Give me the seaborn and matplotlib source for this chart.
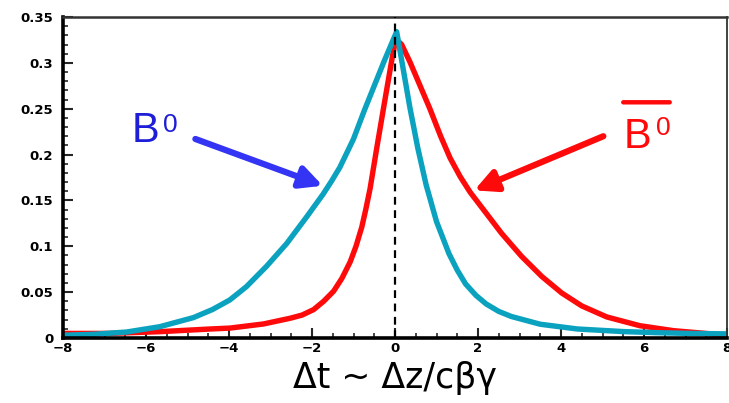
import matplotlib
matplotlib.use("Agg")
import matplotlib.pyplot as plt
import seaborn as sns
import pandas as pd
from matplotlib.ticker import MultipleLocator, FixedLocator

# ---- data ----
t_b0 = [-8, -7.28, -6.47, -5.67, -4.86, -4.4, -3.98, -3.58, -3.10, -2.61, -2.13, -1.73, -1.53,
        -1.33, -1.17, -1.0, -0.74, -0.5, -0.26, 0.04, 0.16, 0.36, 0.55, 0.75, 1.0, 1.3, 1.5,
        1.7, 1.95, 2.2, 2.5, 2.8, 3.5, 4.4, 5.5, 6.3, 7.1, 8]
p_b0 = [0.003, 0.004, 0.0065, 0.0123, 0.0222, 0.031, 0.0415, 0.056, 0.078, 0.103, 0.132, 0.157, 0.171,
        0.186, 0.201, 0.217, 0.248, 0.275, 0.302, 0.334, 0.303, 0.251, 0.207, 0.167, 0.127, 0.092, 0.074,
        0.059, 0.0465, 0.037, 0.029, 0.0235, 0.015, 0.0098, 0.007, 0.0058, 0.005, 0.0045]

t_b0bar = [-8, -6.88, -5.67, -4.46, -3.98, -3.17, -2.53, -2.24, -1.96, -1.72, -1.48, -1.28, -1.08,
           -0.94, -0.80, -0.70, -0.60, -0.44, -0.26, -0.07, 0.02, 0.16, 0.36, 0.84, 1.1, 1.33,
           1.57, 1.81, 2.08, 2.57, 3.05, 3.54, 4.02, 4.5, 5.1, 5.9, 6.71, 8]
p_b0bar = [0.005, 0.005, 0.0069, 0.0098, 0.0108, 0.0153, 0.0215, 0.025, 0.031, 0.040, 0.051, 0.065, 0.083,
           0.100, 0.121, 0.141, 0.163, 0.207, 0.255, 0.305, 0.326, 0.320, 0.301, 0.250, 0.220, 0.196,
           0.176, 0.159, 0.143, 0.114, 0.089, 0.067, 0.049, 0.035, 0.023, 0.0134, 0.008, 0.003]

x_ticks = [-8, -6, -4, -2, 0, 2, 4, 6, 8]
y_ticks = [0, 0.05, 0.1, 0.15, 0.2, 0.25, 0.3, 0.35]
y_tick_labels = ["0", "0.05", "0.1", "0.15", "0.2", "0.25", "0.3", "0.35"]
x_label = "Δt ~ Δz/cβγ"

df = pd.concat([
    pd.DataFrame({"t": t_b0, "p": p_b0, "s": "B0"}),
    pd.DataFrame({"t": t_b0bar, "p": p_b0bar, "s": "B0bar"}),
])

sns.set_theme(style="white")
plt.rcParams["font.family"] = ["Liberation Sans", "DejaVu Sans"]

fig = plt.figure(figsize=(7.29, 4.03), dpi=100)
ax = fig.add_axes([63 / 729, 1 - 338 / 403, (727 - 63) / 729, (338 - 17) / 403])

cyan = "#0AA2BF"
red = "#FF0A0A"
sns.lineplot(data=df, x="t", y="p", hue="s", hue_order=["B0bar", "B0"],
             palette={"B0": cyan, "B0bar": red}, linewidth=3.9, ax=ax,
             legend=False, sort=False, solid_joinstyle="round", solid_capstyle="round")
ax.axvline(0, color="black", linestyle=(0, (3.5, 2.5)), linewidth=1.6, zorder=5)

ax.set_xlim(-8, 8)
ax.set_ylim(0, 0.35)
ax.xaxis.set_major_locator(FixedLocator(x_ticks))
ax.xaxis.set_minor_locator(MultipleLocator(0.5))
ax.yaxis.set_major_locator(FixedLocator(y_ticks))
ax.set_yticklabels(y_tick_labels)
ax.yaxis.set_minor_locator(MultipleLocator(0.01))
ax.tick_params(axis="both", which="major", direction="in", length=7, width=1.5,
               labelsize=9.5, labelcolor="black", top=False, right=False, bottom=True, left=True)
ax.tick_params(axis="x", which="major", pad=3)
ax.tick_params(axis="y", which="major", pad=7)
ax.tick_params(axis="both", which="minor", direction="in", length=3.5, width=1.2,
               top=False, right=False, bottom=True, left=True)
for lab in ax.get_xticklabels() + ax.get_yticklabels():
    lab.set_fontweight("heavy")
    lab.set_family(["DejaVu Sans"])

for side, lw, col in [("left", 2.6, "black"), ("bottom", 2.6, "black"),
                      ("top", 1.8, "#333333"), ("right", 1.3, "#333333")]:
    ax.spines[side].set_visible(True)
    ax.spines[side].set_linewidth(lw)
    ax.spines[side].set_color(col)

ax.set_xlabel(x_label, fontsize=25, family=["DejaVu Sans"], color="black", labelpad=4)
ax.set_ylabel("")

# labels and arrows
blue = "#3434F5"
ax.text(-6.35, 0.214, "B", fontsize=30, color="#1E1ED8", ha="left", va="baseline")
ax.text(-5.58, 0.2246, "0", fontsize=19, color="#1E1ED8", ha="left", va="baseline")
ax.annotate("", xy=(-1.74, 0.166), xytext=(-4.81, 0.217),
            arrowprops=dict(arrowstyle="-|>,head_length=1.1,head_width=0.55",
                            color=blue, lw=4.5, shrinkA=0, shrinkB=0))

ax.text(5.5, 0.207, "B", fontsize=30, color=red, ha="left", va="baseline")
ax.text(6.3, 0.221, "0", fontsize=19, color=red, ha="left", va="baseline")
ax.annotate("", xy=(6.62, 0.257), xytext=(5.5, 0.257),
            arrowprops=dict(arrowstyle="-", color=red, lw=3.2, shrinkA=0, shrinkB=0))
ax.annotate("", xy=(1.91, 0.161), xytext=(5.02, 0.220),
            arrowprops=dict(arrowstyle="-|>,head_length=1.1,head_width=0.55",
                            color=red, lw=4.5, shrinkA=0, shrinkB=0))

fig.savefig("out.png", dpi=100)
